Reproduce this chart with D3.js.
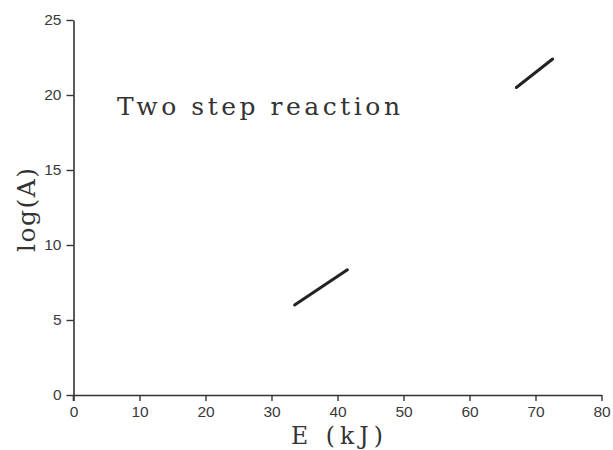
<!DOCTYPE html>
<html><head><meta charset="utf-8">
<script src="https://cdn.jsdelivr.net/npm/d3@7"></script>
<style>body{margin:0;background:#fff;} svg{display:block;}</style>
</head><body>
<svg id="chart" width="613" height="450"></svg>
<script>
// Data
const xTicks = [0, 10, 20, 30, 40, 50, 60, 70, 80];
const yTicks = [0, 5, 10, 15, 20, 25];
const seriesLow = [[33.5, 6.0], [41.5, 8.35]];
const seriesHigh = [[67.1, 20.5], [72.6, 22.4]];
const annotation = "Two step reaction";
const xTitle = "E (kJ)";
const yTitle = "log(A)";

const svg = d3.select("#chart");
const x = d3.scaleLinear().domain([0, 80]).range([73.5, 601.5]);
const y = d3.scaleLinear().domain([0, 25]).range([395, 20]);

const xAxis = svg.append("g").attr("transform", `translate(0,${y(0)})`)
  .call(d3.axisBottom(x).tickValues(xTicks).tickSize(6).tickSizeOuter(0).tickPadding(5));
const yAxis = svg.append("g").attr("transform", `translate(${x(0)},0)`)
  .call(d3.axisLeft(y).tickValues(yTicks).tickSize(7).tickSizeOuter(0).tickPadding(5));

[xAxis, yAxis].forEach(g => {
  g.selectAll("path.domain").attr("stroke", "#333").attr("stroke-width", 1.6);
  g.selectAll(".tick line").attr("stroke", "#333").attr("stroke-width", 1.4);
  g.selectAll(".tick text").attr("fill", "#3a3a3a")
    .attr("font-family", "Liberation Sans, Arial, sans-serif").attr("font-size", 15.5);
});
// small extension of y axis below the x axis
svg.append("line").attr("x1", x(0)).attr("x2", x(0)).attr("y1", y(0)).attr("y2", y(0) + 6)
  .attr("stroke", "#333").attr("stroke-width", 1.6);

const line = d3.line().x(d => x(d[0])).y(d => y(d[1]));
[seriesLow, seriesHigh].forEach(s => {
  svg.append("path").datum(s).attr("d", line)
    .attr("fill", "none").attr("stroke", "#222").attr("stroke-width", 3).attr("stroke-linecap", "round");
});

const serif = "DejaVu Serif, Liberation Serif, serif";
svg.append("text").attr("x", 117).attr("y", 115).text(annotation)
  .attr("font-family", serif).attr("font-size", 25).attr("fill", "#333")
  .attr("textLength", 283).attr("lengthAdjust", "spacing");
svg.append("text").attr("x", 291).attr("y", 444).text(xTitle)
  .attr("font-family", serif).attr("font-size", 23.5).attr("fill", "#333")
  .attr("textLength", 92).attr("lengthAdjust", "spacing");
svg.append("text").attr("transform", `translate(35,252) rotate(-90)`).text(yTitle)
  .attr("font-family", serif).attr("font-size", 25).attr("fill", "#333")
  .attr("textLength", 84).attr("lengthAdjust", "spacing");
</script>
</body></html>
